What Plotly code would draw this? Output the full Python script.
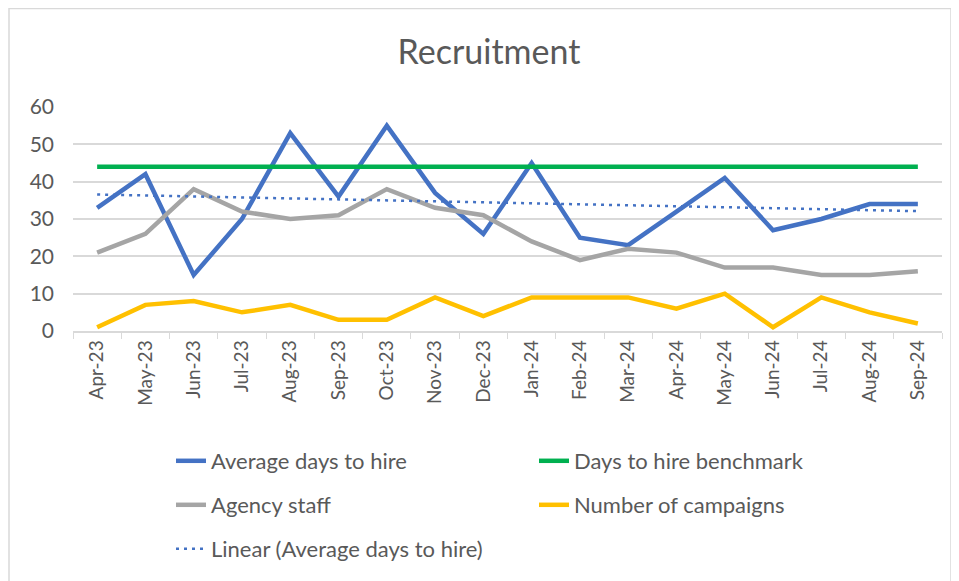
import numpy as np
import plotly.graph_objects as go

months = ["Apr-23", "May-23", "Jun-23", "Jul-23", "Aug-23", "Sep-23", "Oct-23", "Nov-23", "Dec-23",
          "Jan-24", "Feb-24", "Mar-24", "Apr-24", "May-24", "Jun-24", "Jul-24", "Aug-24", "Sep-24"]
avg_days = [33, 42, 15, 30, 53, 36, 55, 37, 26, 45, 25, 23, 32, 41, 27, 30, 34, 34]
benchmark = [44] * 18
agency = [21, 26, 38, 32, 30, 31, 38, 33, 31, 24, 19, 22, 21, 17, 17, 15, 15, 16]
campaigns = [1, 7, 8, 5, 7, 3, 3, 9, 4, 9, 9, 9, 6, 10, 1, 9, 5, 2]

# Excel-style linear trendline on the average days to hire
idx = np.arange(1, len(avg_days) + 1)
slope, intercept = np.polyfit(idx, avg_days, 1)
trend = slope * idx + intercept

FONT = "Lato"
GREY = "#595959"
# the page body has an 8px margin, so the figure is drawn 8px smaller
W, H = 951, 573
L, T, PW, PH = 65, 99, 869, 224  # plot area in figure pixels

fig = go.Figure()
fig.add_trace(go.Scatter(x=months, y=avg_days, name="Average days to hire", mode="lines",
                         line=dict(color="#4472C4", width=4.5), legend="legend"))
fig.add_trace(go.Scatter(x=months, y=benchmark, name="Days to hire benchmark", mode="lines",
                         line=dict(color="#00B050", width=4.5), legend="legend"))
fig.add_trace(go.Scatter(x=months, y=agency, name="Agency staff", mode="lines",
                         line=dict(color="#A5A5A5", width=4.5), legend="legend2"))
fig.add_trace(go.Scatter(x=months, y=campaigns, name="Number of campaigns", mode="lines",
                         line=dict(color="#FFC000", width=4.5), legend="legend2"))
fig.add_trace(go.Scatter(x=months, y=trend, name="Linear (Average days to hire)", mode="lines",
                         line=dict(color="#4472C4", width=2.5, dash="3px,5px"), legend="legend3"))


def row_legend(y_px):
    return dict(orientation="h", xref="container", yref="container",
                x=163 / W, y=1 - y_px / H, xanchor="left", yanchor="middle",
                entrywidth=318, entrywidthmode="pixels", bgcolor="rgba(0,0,0,0)",
                font=dict(family=FONT, size=22, color=GREY))


fig.update_layout(
    width=W, height=H,
    paper_bgcolor="white", plot_bgcolor="white",
    margin=dict(l=L, r=W - L - PW, t=T, b=H - T - PH, autoexpand=False),
    title=dict(text="Recruitment", xref="container", x=481 / W, xanchor="center",
               yref="container", y=1 - 44 / H, yanchor="middle",
               font=dict(family=FONT, size=34, color=GREY)),
    font=dict(family=FONT, color=GREY),
    xaxis=dict(type="category", range=[-0.5, 17.5], tickangle=-90, tickson="boundaries",
               ticks="outside", ticklen=6, tickcolor="#d9d9d9", showgrid=False,
               showline=True, linecolor="#d9d9d9", linewidth=1.5,
               tickfont=dict(size=19, color=GREY)),
    yaxis=dict(range=[0, 60], dtick=10, showgrid=True, gridcolor="#d9d9d9", gridwidth=1.5,
               zeroline=False, ticks="", ticklabelstandoff=18,
               tickfont=dict(size=21, color=GREY)),
    legend=row_legend(453),
    legend2=row_legend(497),
    legend3=row_legend(541),
    showlegend=True,
    shapes=[dict(type="rect", xref="paper", yref="paper",
                 x0=(1 - L) / PW, x1=(943 - L) / PW,
                 y0=(T + PH - 590) / PH, y1=(T + PH - 0.5) / PH,
                 line=dict(color="#d9d9d9", width=1.5), fillcolor="rgba(0,0,0,0)", layer="below")],
)

fig.write_html("out.html")
